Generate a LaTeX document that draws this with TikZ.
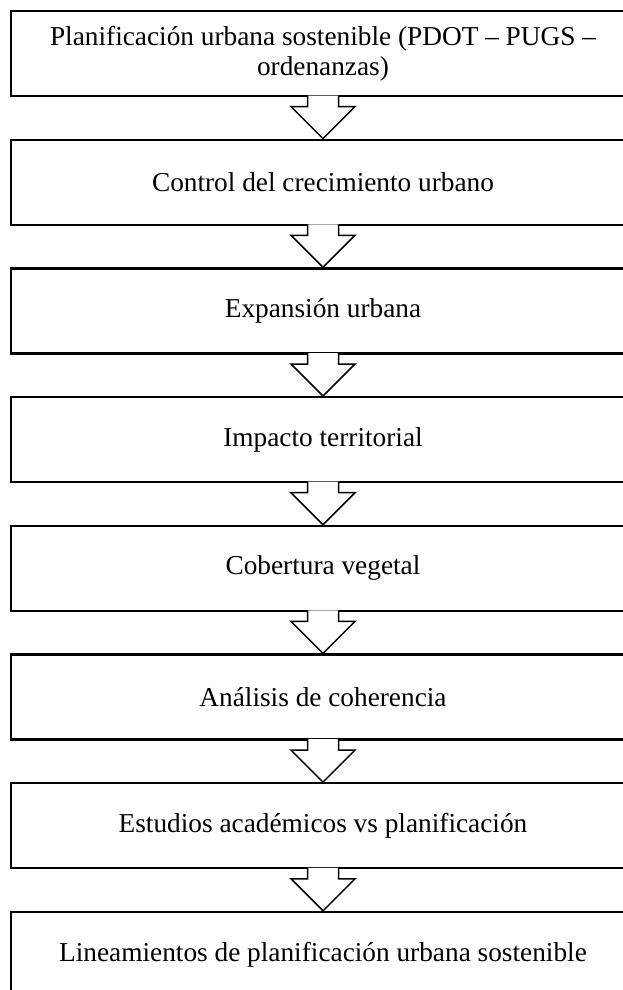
\documentclass[tikz,border=0pt]{standalone}
\usepackage{fontspec}
\setmainfont{Liberation Serif}

\begin{document}
\begin{tikzpicture}[x=1pt, y=-1pt,
    caja/.style={rectangle, draw, line width=2.2pt, minimum width=624pt,
      minimum height=85pt, inner sep=0pt, align=center,
      font=\fontsize{27.3}{30}\selectfont},
    flecha/.style={draw, fill=white, line width=1.5pt, line join=miter}]
    \clip (0, 0) rectangle (623, 990);

    % Boxes
    \path
    (323, 53.5) node[caja] (plan) {Planificación urbana sostenible (PDOT -- PUGS --\\ ordenanzas)}
    (323, 182.2) node[caja] (control) {Control del crecimiento urbano}
    (323, 310.9) node[caja] (expansion) {Expansión urbana}
    (323, 439.6) node[caja] (impacto) {Impacto territorial}
    (323, 568.3) node[caja] (cobertura) {Cobertura vegetal}
    (323, 697.0) node[caja] (analisis) {Análisis de coherencia}
    (323, 825.7) node[caja] (estudios) {Estudios académicos vs planificación}
    (323, 954.4) node[caja] (lineam) {Lineamientos de planificación urbana sostenible}
    ;

    % Block arrows
    \path[flecha] ([xshift=-15.5pt, yshift=1.5pt]plan.south) |- ([xshift=-32pt, yshift=32pt]control.north) -- (control.north) -- ([xshift=32pt, yshift=32pt]control.north) -| ([xshift=15.5pt, yshift=1.5pt]plan.south);
    \path[flecha] ([xshift=-15.5pt, yshift=1.5pt]control.south) |- ([xshift=-32pt, yshift=32pt]expansion.north) -- (expansion.north) -- ([xshift=32pt, yshift=32pt]expansion.north) -| ([xshift=15.5pt, yshift=1.5pt]control.south);
    \path[flecha] ([xshift=-15.5pt, yshift=1.5pt]expansion.south) |- ([xshift=-32pt, yshift=32pt]impacto.north) -- (impacto.north) -- ([xshift=32pt, yshift=32pt]impacto.north) -| ([xshift=15.5pt, yshift=1.5pt]expansion.south);
    \path[flecha] ([xshift=-15.5pt, yshift=1.5pt]impacto.south) |- ([xshift=-32pt, yshift=32pt]cobertura.north) -- (cobertura.north) -- ([xshift=32pt, yshift=32pt]cobertura.north) -| ([xshift=15.5pt, yshift=1.5pt]impacto.south);
    \path[flecha] ([xshift=-15.5pt, yshift=1.5pt]cobertura.south) |- ([xshift=-32pt, yshift=32pt]analisis.north) -- (analisis.north) -- ([xshift=32pt, yshift=32pt]analisis.north) -| ([xshift=15.5pt, yshift=1.5pt]cobertura.south);
    \path[flecha] ([xshift=-15.5pt, yshift=1.5pt]analisis.south) |- ([xshift=-32pt, yshift=32pt]estudios.north) -- (estudios.north) -- ([xshift=32pt, yshift=32pt]estudios.north) -| ([xshift=15.5pt, yshift=1.5pt]analisis.south);
    \path[flecha] ([xshift=-15.5pt, yshift=1.5pt]estudios.south) |- ([xshift=-32pt, yshift=32pt]lineam.north) -- (lineam.north) -- ([xshift=32pt, yshift=32pt]lineam.north) -| ([xshift=15.5pt, yshift=1.5pt]estudios.south);

\end{tikzpicture}
\end{document}
